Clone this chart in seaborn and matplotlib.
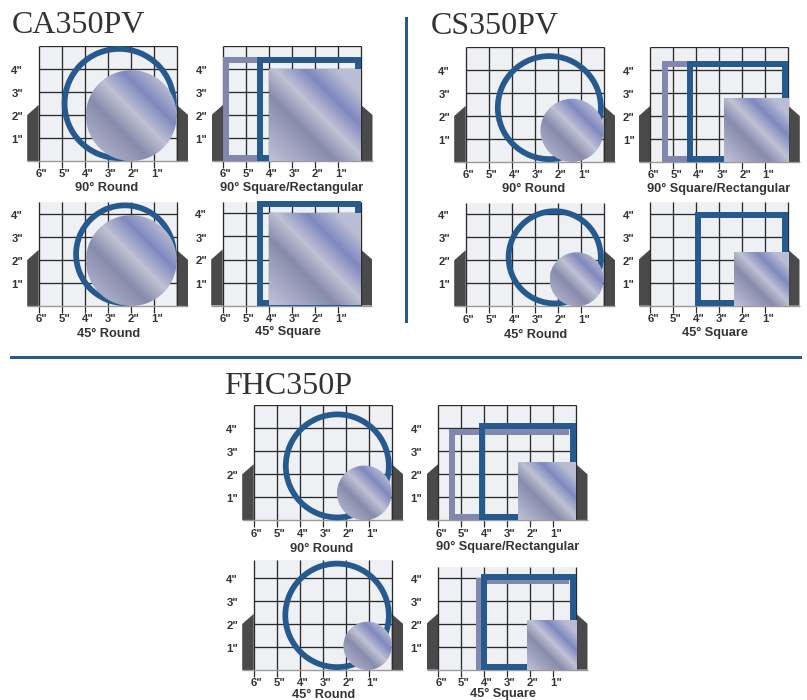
import numpy as np
import matplotlib
matplotlib.use("Agg")
import matplotlib.pyplot as plt
from matplotlib.patches import Annulus, Circle, Rectangle, Polygon
from matplotlib.transforms import ScaledTranslation
import seaborn as sns

# models and captions
models = ["CA350PV", "CS350PV", "FHC350P"]
captions = ["90° Round", "90° Square/Rectangular", "45° Round", "45° Square",
            "90° Round", "90° Square/Rectangular", "45° Round", "45° Square",
            "90° Round", "90° Square/Rectangular", "45° Round", "45° Square"]
shapes = ["round", "square", "round", "square"] * 3

# sizes, inches
grid_heights = [5, 5, 4.53, 4.5, 5, 5, 4.5, 4.5, 5, 5, 4.78, 4.48]
outer_sizes = [5.0, 4.5, 4.5, 4.52, 4.73, 4.4, 4.26, 4.05, 4.73, 4.22, 4.75, 4.14]
inner_sizes = [3.95, 4.0, 3.95, 4.0, 2.75, 2.8, 2.35, 2.35, 2.38, 2.52, 2.1, 2.15]
light_widths = [0, 6, 0, 0, 0, 5.5, 0, 0, 0, 5.5, 0, 4.35]
light_heights = [0, 4.5, 0, 0, 0, 4.4, 0, 0, 0, 3.97, 0, 3.97]
inch_ticks = [6, 5, 4, 3, 2, 1]
height_ticks = [1, 2, 3, 4]

# layout in pixels: x of the 6" line, y of the base line
panel_left = [38.7, 223, 38.7, 222.7, 465.7, 650.3, 465.7, 650, 253.7, 438, 253.7, 438]
panel_base = [161, 161, 306, 305.5, 162, 162, 306.3, 305.7, 520.3, 520.3, 670, 669.7]
caption_x = [106.2, 291.7, 108.7, 287.8, 533.2, 719, 536, 714.8, 321.3, 507.3, 323.3, 502.7]
caption_y = [191, 191, 337, 335, 192, 192, 338.3, 336, 551.7, 550, 697.5, 697.5]
title_pos = [(12, 33), (431, 34.3), (224, 394)]

W, H = 807, 700
BLUE = "#265a8e"
LIGHT = "#8287ae"
SIDE = "#4a4a4a"
TEXT = "#333333"
RING = 0.25

sns.set_theme(style="white")
plt.rcParams["font.family"] = ["Liberation Sans", "DejaVu Sans"]

sheen = sns.blend_palette(["#bbbdd3", "#a2a5c0", "#878cac", "#c0c2d4",
                           "#7f88bf", "#babdd3", "#babdd3"], as_cmap=True)


def fill_sheen(ax, size, clip):
    # diagonal metal look, same stripes on discs and squares
    gx, gy = np.meshgrid(np.linspace(0, 1, 160), np.linspace(0, 1, 160))
    img = ax.imshow((gx + gy) / 2 - 0.03, cmap=sheen, vmin=0, vmax=1, origin="lower",
                    extent=(size, 0, 0, size), aspect="auto", zorder=6, interpolation="bilinear")
    ax.add_patch(clip)
    img.set_clip_path(clip)
    img.set_clip_on(True)


def draw_panel(i):
    h = grid_heights[i]
    left = panel_left[i] - 11.5
    bottom = 1 - panel_base[i] / H
    ax = fig.add_axes([left / W, bottom, 161 / W, h * 23 / H])
    ax.patch.set_alpha(0)
    sns.despine(ax=ax, left=True, bottom=True, right=True, top=True)

    ax.add_patch(Rectangle((0, 0), 6, h, fc="#eef0f4", ec="none", zorder=0))
    ax.add_patch(Polygon([(6, 0), (6.5, 0), (6.5, 2), (6, 2.44)], fc=SIDE, ec="none", zorder=1))
    ax.add_patch(Polygon([(0, 0), (-0.5, 0), (-0.5, 2), (0, 2.44)], fc=SIDE, ec="none", zorder=1))

    ax.vlines(range(7), 0, h, color="#2b2b2b", lw=0.95, zorder=2)
    rows = [y for y in [1, 2, 3, 4, 5] if y <= h]
    ax.hlines(rows, 0, 6, color="#2b2b2b", lw=0.95, zorder=2)
    ax.hlines(0, -0.5, 6.5, color="#9a9a9a", lw=1.0, zorder=2, clip_on=False)

    outer = outer_sizes[i]
    inner = inner_sizes[i]
    t = RING / 2
    lw = 4.3
    if shapes[i] == "round":
        ax.add_patch(Annulus((outer / 2, outer / 2), outer / 2, RING, fc=BLUE, ec="none",
                             zorder=4, clip_on=False))
        fill_sheen(ax, inner, Circle((inner / 2, inner / 2), inner / 2, fc="none", ec="none", zorder=6))
    else:
        if light_widths[i]:
            lx = light_widths[i] - t
            ly = light_heights[i] - t
            sns.lineplot(x=[0.3, lx, lx, 0.3], y=[t, t, ly, ly], sort=False, estimator=None,
                         ax=ax, color=LIGHT, lw=lw, solid_joinstyle="miter",
                         solid_capstyle="butt", legend=False, zorder=3, clip_on=False)
        sns.lineplot(x=[t, outer - t, outer - t, t, t], y=[t, t, outer - t, outer - t, 0],
                     sort=False, estimator=None, ax=ax, color=BLUE, lw=lw,
                     solid_joinstyle="miter", solid_capstyle="butt", legend=False,
                     zorder=4, clip_on=False)
        fill_sheen(ax, inner, Rectangle((0, 0), inner, inner, fc="none", ec="none", zorder=6))

    ax.set_xlim(6.5, -0.5)
    ax.set_ylim(0, h)
    ax.set_xlabel("")
    ax.set_ylabel("")
    ax.set_xticks(inch_ticks, [f'{v}"' for v in inch_ticks])
    ax.set_yticks(height_ticks, [f'{v}"' for v in height_ticks])
    ax.tick_params(axis="x", length=5, width=0.9, color="#2b2b2b", pad=1, labelsize=8.2,
                   labelcolor=TEXT, bottom=True)
    ax.tick_params(axis="y", length=0, pad=3, labelsize=8.2, labelcolor=TEXT)
    for lab in ax.get_xticklabels():
        lab.set_fontweight("bold")
        lab.set_transform(lab.get_transform() + ScaledTranslation(0.03, 0, fig.dpi_scale_trans))
    for lab in ax.get_yticklabels():
        lab.set_fontweight("bold")
        lab.set_transform(lab.get_transform() + ScaledTranslation(0, -0.01, fig.dpi_scale_trans))

    fig.text(caption_x[i] / W, 1 - caption_y[i] / H, captions[i], ha="center", va="baseline",
             fontsize=9.2, fontweight="bold", color=TEXT)


fig = plt.figure(figsize=(W / 100, H / 100), dpi=100, facecolor="white")

for n in range(len(captions)):
    draw_panel(n)

for name, (x, y) in zip(models, title_pos):
    fig.text(x / W, 1 - y / H, name, family=["Liberation Serif", "DejaVu Serif"], fontsize=23,
             color=TEXT, ha="left", va="baseline")

# divider lines
fig.add_artist(plt.Rectangle((405 / W, 1 - 323 / H), 2.6 / W, 306 / H, color=BLUE, lw=0))
fig.add_artist(plt.Rectangle((10 / W, 1 - 358.7 / H), 791.7 / W, 3 / H, color=BLUE, lw=0))

fig.savefig("out.png", dpi=100)
